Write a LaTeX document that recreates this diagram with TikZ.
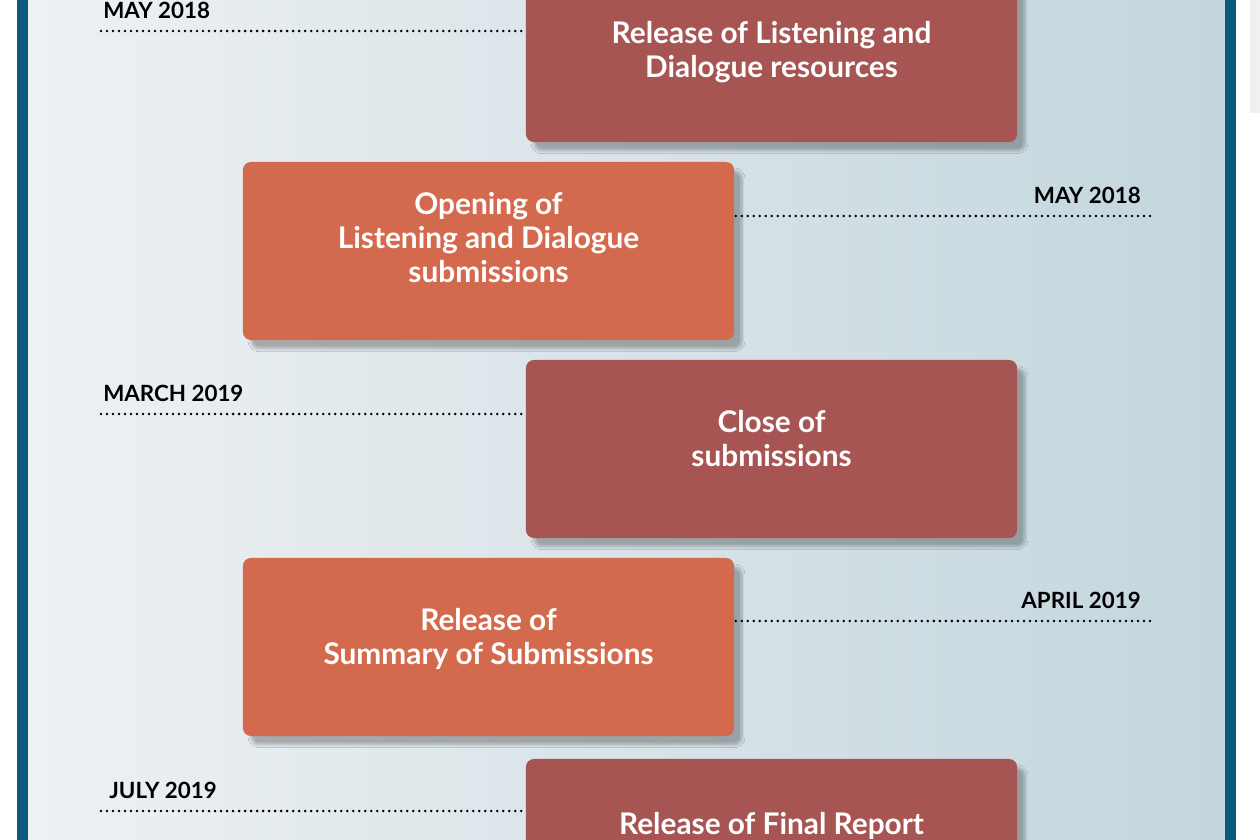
\documentclass[tikz,border=0pt]{standalone}
\usepackage{fontspec}
\setmainfont{Lato}
\usetikzlibrary{positioning,shadows.blur}
\definecolor{frameblue}{HTML}{0B5A7E}
\definecolor{boxred}{HTML}{A75553}
\definecolor{boxorange}{HTML}{D36A4E}
\definecolor{panellight}{HTML}{EEF1F3}
\definecolor{paneldark}{HTML}{C3D6DD}
\tikzset{
  event/.style={rounded corners=0.2cm, minimum width=12.275cm, minimum height=4.45cm,
    inner sep=0pt, blur shadow={shadow xshift=0.2cm, shadow yshift=-0.22cm,
    shadow blur steps=12, shadow opacity=28}},
  redbox/.style={event, fill=boxred},
  orangebox/.style={event, fill=boxorange},
  boxtext/.style={text=white, align=center, inner sep=0pt,
    font=\bfseries\fontsize{21.2}{24.2}\selectfont},
  datetext/.style={inner sep=0pt, font=\bfseries\fontsize{15.9}{18}\selectfont},
  datelink/.style={line width=2pt, line cap=round, dash pattern=on 0pt off 4.27pt},
}
\begin{document}
\begin{tikzpicture}[x=0.025cm, y=-0.025cm]
    \useasboundingbox (0,0) rectangle (1260,840);
    \clip (0,0) rectangle (1260,840);
    % frame and panel
    \fill[white] (0,0) rectangle (1260,840);
    \fill[black!6] (1250,0) rectangle (1260,113);
    \shade[left color=panellight, right color=paneldark] (28,-10) rectangle (1225,850);
    \fill[frameblue] (17,-10) rectangle (28,850);
    \fill[frameblue] (1225,-10) rectangle (1236,850);
    % events
    \node[redbox] (E1) at (771.5, 53) {};
    \node[orangebox] (E2) at (488.5, 251) {};
    \node[redbox] (E3) at (771.5, 449) {};
    \node[orangebox] (E4) at (488.5, 647) {};
    \node[redbox] (E5) at (771.5, 848) {};
    \node[boxtext] (T1) at ([yshift=0.025cm]E1.center) {Release of Listening and\\Dialogue resources};
    \node[boxtext] (T2) at ([yshift=0.325cm]E2.center) {Opening of\\Listening and Dialogue\\submissions};
    \node[boxtext] (T3) at ([yshift=0.25cm]E3.center) {Close of\\submissions};
    \node[boxtext] (T4) at ([yshift=0.2cm]E4.center) {Release of\\Summary of Submissions};
    \node[boxtext] (T5) at ([yshift=0.55cm]E5.center) {Release of Final Report};
    % dates
    \coordinate (D1) at (101, 31);
    \coordinate (D2) at (1150, 216);
    \coordinate (D3) at (101, 414);
    \coordinate (D4) at (1150, 621);
    \coordinate (D5) at (101, 811);
    \node[datetext, above right=0.3cm and 0.05cm of D1] (M1) {MAY 2018};
    \node[datetext, above left=0.3cm and 0.225cm of D2] (M2) {MAY 2018};
    \node[datetext, above right=0.3cm and 0.05cm of D3] (M3) {MARCH 2019};
    \node[datetext, above left=0.3cm and 0.225cm of D4] (M4) {APRIL 2019};
    \node[datetext, above right=0.3cm and 0.2cm of D5] (M5) {JULY 2019};
    \path (D1) edge [datelink] (D1 -| E1.west);
    \path (D2) edge [datelink] (D2 -| E2.east);
    \path (D3) edge [datelink] (D3 -| E3.west);
    \path (D4) edge [datelink] (D4 -| E4.east);
    \path (D5) edge [datelink] (D5 -| E5.west);
  \end{tikzpicture}
\end{document}
